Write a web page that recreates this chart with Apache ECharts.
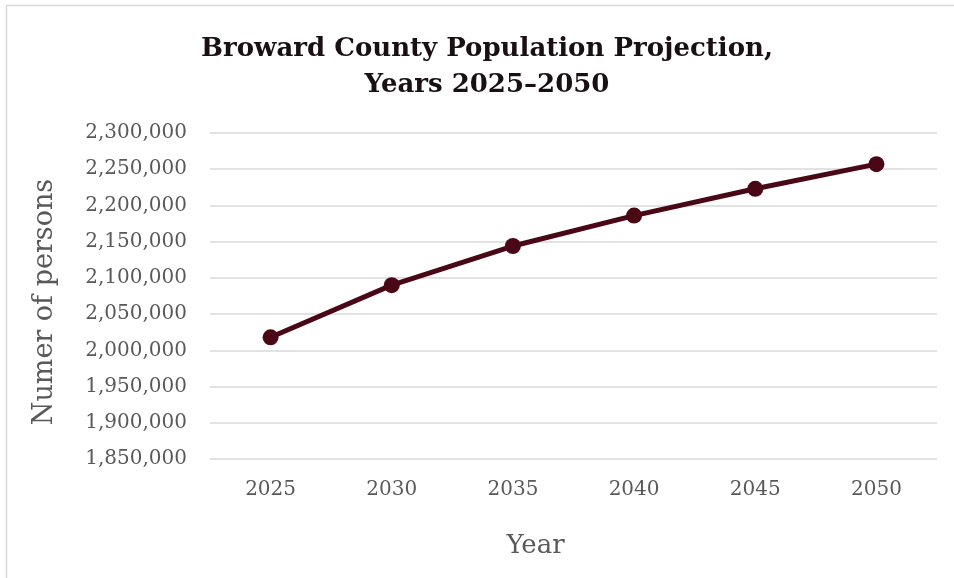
<!DOCTYPE html>
<html>
<head>
<meta charset="utf-8">
<title>Broward County Population Projection</title>
<script src="https://cdn.jsdelivr.net/npm/echarts@6/dist/echarts.min.js"></script>
<style>
  html, body { margin: 0; padding: 0; background: #ffffff; }
  #chart { width: 954px; height: 578px; }
</style>
</head>
<body>
<div id="chart"></div>
<script>
// Projection years and projected population (persons)
const years = ['2025', '2030', '2035', '2040', '2045', '2050'];
const population = [2018000, 2090000, 2144000, 2186000, 2223000, 2257000];

// Value axis range
const yMin = 1850000;
const yMax = 2300000;
const yStep = 50000;

const serif = '"DejaVu Serif", "Liberation Serif", serif';
const maroon = '#4a0816';
const gray = '#595959';

const chart = echarts.init(document.getElementById('chart'), null, { renderer: 'canvas' });

chart.setOption({
  backgroundColor: '#ffffff',
  animation: false,
  graphic: [{
    type: 'rect',
    shape: { x: 6.5, y: 5.5, width: 1200, height: 1200 },
    style: { fill: 'none', stroke: '#d9d9d9', lineWidth: 1.5 },
    silent: true
  }],
  title: {
    text: 'Broward County Population Projection,\nYears 2025\u20132050',
    left: 482,
    textAlign: 'center',
    top: 26,
    textStyle: {
      fontFamily: serif,
      fontWeight: 'bold',
      fontSize: 26,
      lineHeight: 36,
      color: '#1a1014'
    }
  },
  grid: {
    left: 210,
    right: 17,
    top: 133,
    bottom: 119,
    containLabel: false
  },
  xAxis: {
    type: 'category',
    data: years,
    boundaryGap: true,
    axisLine: { show: false },
    axisTick: { show: false },
    axisLabel: {
      color: gray,
      fontFamily: serif,
      fontSize: 20,
      margin: 21
    },
    name: 'Year',
    nameLocation: 'middle',
    nameGap: 74,
    nameTextStyle: {
      color: gray,
      fontFamily: serif,
      fontSize: 26,
      padding: [0, 76, 0, 0]
    }
  },
  yAxis: {
    type: 'value',
    min: yMin,
    max: yMax,
    interval: yStep,
    axisLine: { show: false },
    axisTick: { show: false },
    splitLine: { lineStyle: { color: '#d9d9d9', width: 1.5 } },
    axisLabel: {
      color: gray,
      fontFamily: serif,
      fontSize: 20,
      margin: 23,
      formatter: v => v.toLocaleString('en-US')
    },
    name: 'Numer of persons',
    nameLocation: 'middle',
    nameRotate: 90,
    nameGap: 152,
    nameTextStyle: {
      color: gray,
      fontFamily: serif,
      fontSize: 27,
      padding: [0, 12, 0, 0]
    }
  },
  series: [{
    type: 'line',
    data: population,
    symbol: 'circle',
    symbolSize: 16,
    lineStyle: { color: maroon, width: 5 },
    itemStyle: { color: maroon },
    z: 3
  }]
});
</script>
</body>
</html>
